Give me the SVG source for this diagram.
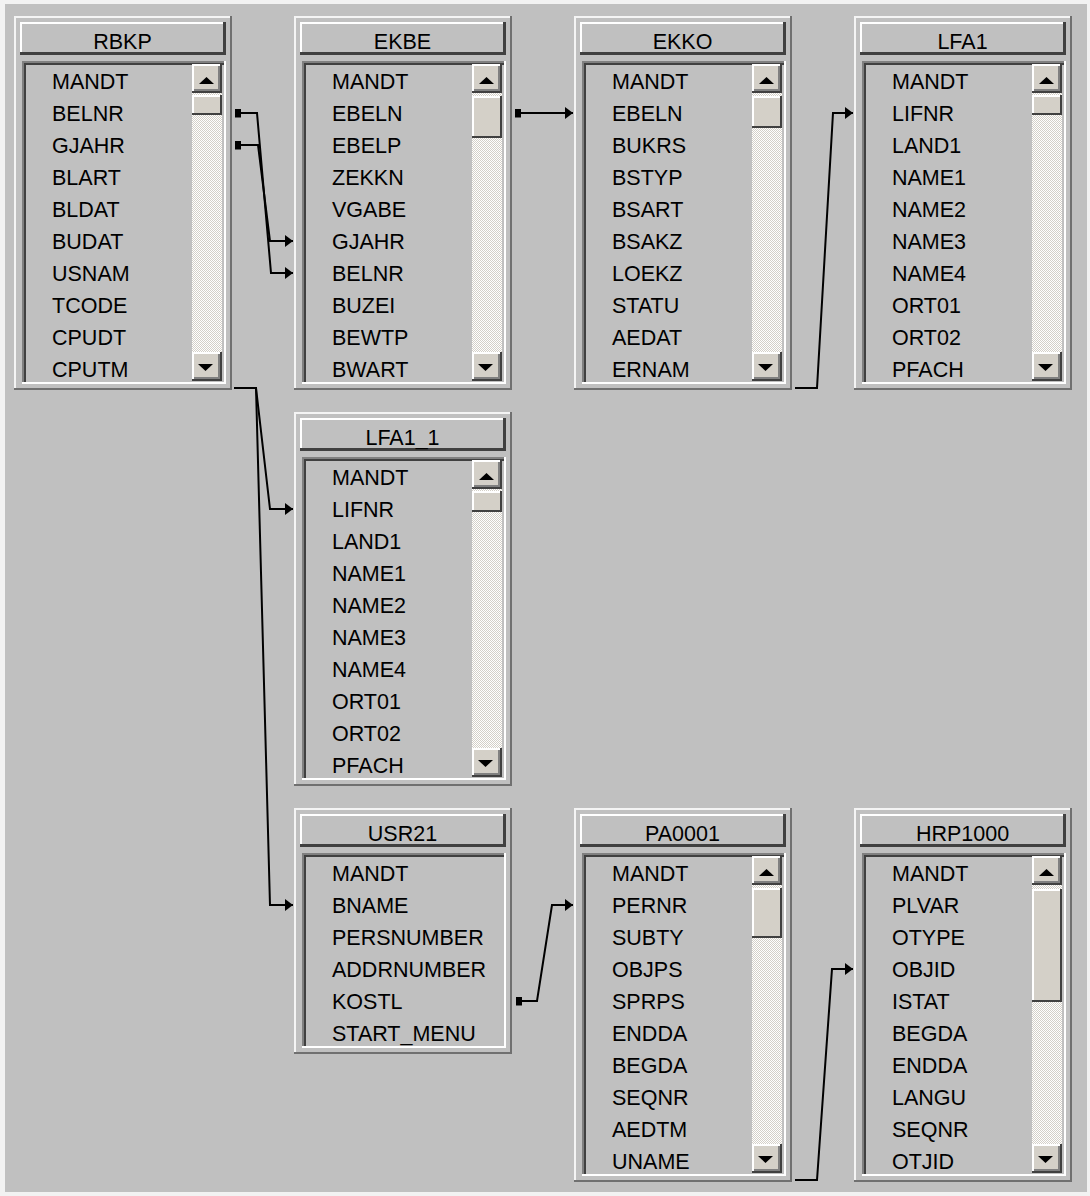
<svg xmlns="http://www.w3.org/2000/svg" xmlns:xlink="http://www.w3.org/1999/xlink" width="1090" height="1196" viewBox="0 0 1090 1196">
<style>
.f{font-family:"Liberation Sans",Arial,sans-serif;font-size:21.5px;fill:#000}
.t{text-anchor:middle}
.c{fill:none;stroke:#000;stroke-width:2;stroke-linejoin:miter}
.face{fill:#d4d0c8}
.hi{fill:#ffffff}
.sh{fill:#808080}
.dk{fill:#404040}
</style>
<defs>
<pattern id="dith" width="2" height="2" patternUnits="userSpaceOnUse">
<rect width="2" height="2" fill="#ffffff"/>
<rect width="1" height="1" fill="#d4d0c8"/>
<rect x="1" y="1" width="1" height="1" fill="#d4d0c8"/>
</pattern>
<marker id="arr" markerUnits="userSpaceOnUse" markerWidth="9" markerHeight="12" refX="8" refY="6" orient="auto">
<path d="M0,0 L8,6 L0,12 z" fill="#000"/>
</marker>
<marker id="sq" markerUnits="userSpaceOnUse" markerWidth="7" markerHeight="10" refX="0" refY="4.5">
<rect x="0" y="0" width="6" height="9" fill="#000"/>
</marker>
<g id="btn">
<rect width="30" height="29" class="face"/>
<rect width="28" height="2" class="hi"/>
<rect width="2" height="27" class="hi"/>
<rect y="27" width="30" height="2" class="dk"/>
<rect x="28" width="2" height="29" class="dk"/>
<rect x="2" y="25" width="26" height="2" class="sh"/>
<rect x="26" y="2" width="2" height="25" class="sh"/>
</g>
<g id="btnUp">
<use xlink:href="#btn"/>
<path d="M7,20 L14.5,13 L22,20 z" fill="#000"/>
</g>
<g id="btnDn">
<use xlink:href="#btn"/>
<path d="M6,12 L21,12 L13.5,19 z" fill="#000"/>
</g>
<g id="frameBase10">
<rect width="218" height="374" fill="#c0c0c0"/>
<rect width="218" height="2" fill="#f4f4f4"/>
<rect width="2" height="374" fill="#f4f4f4"/>
<rect y="372" width="218" height="2" fill="#707070"/>
<rect x="216" width="2" height="374" fill="#707070"/>
<rect x="6" y="6" width="206" height="33" fill="#c0c0c0"/>
<rect x="6" y="6" width="205" height="2" class="hi"/>
<rect x="6" y="6" width="2" height="32" class="hi"/>
<rect x="6" y="36" width="206" height="3" class="dk"/>
<rect x="209" y="6" width="3" height="33" class="dk"/>
<rect x="8" y="45" width="204" height="2" class="sh"/>
<rect x="8" y="45" width="2" height="323" class="sh"/>
<rect x="10" y="47" width="200" height="2" class="dk"/>
<rect x="10" y="47" width="2" height="319" class="dk"/>
<rect x="8" y="366" width="204" height="2" class="hi"/>
<rect x="210" y="45" width="2" height="323" class="hi"/>
<rect x="178" y="48" width="30" height="317" fill="url(#dith)"/>
<use xlink:href="#btnUp" x="178" y="48"/>
<use xlink:href="#btnDn" x="178" y="336"/>
</g>
<g id="frameBase6">
<rect width="218" height="246" fill="#c0c0c0"/>
<rect width="218" height="2" fill="#f4f4f4"/>
<rect width="2" height="246" fill="#f4f4f4"/>
<rect y="244" width="218" height="2" fill="#707070"/>
<rect x="216" width="2" height="246" fill="#707070"/>
<rect x="6" y="6" width="206" height="33" fill="#c0c0c0"/>
<rect x="6" y="6" width="205" height="2" class="hi"/>
<rect x="6" y="6" width="2" height="32" class="hi"/>
<rect x="6" y="36" width="206" height="3" class="dk"/>
<rect x="209" y="6" width="3" height="33" class="dk"/>
<rect x="8" y="45" width="204" height="2" class="sh"/>
<rect x="8" y="45" width="2" height="195" class="sh"/>
<rect x="10" y="47" width="200" height="2" class="dk"/>
<rect x="10" y="47" width="2" height="191" class="dk"/>
<rect x="8" y="238" width="204" height="2" class="hi"/>
<rect x="210" y="45" width="2" height="195" class="hi"/>
</g>
</defs>

<rect width="1090" height="1196" fill="#f2f2f2"/>
<rect x="5" y="4" width="1082" height="1188" fill="#c0c0c0"/>

<g id="RBKP" transform="translate(14,16)">
<use xlink:href="#frameBase10"/>
<g transform="translate(178,79)"><rect width="30" height="20" class="face"/><rect width="30" height="2" class="hi"/><rect width="2" height="20" class="hi"/><rect y="18" width="30" height="2" class="dk"/><rect x="28" width="2" height="20" class="dk"/></g>
<text class="f t" x="108.5" y="32.5">RBKP</text>
<text class="f" x="38" y="73">MANDT</text>
<text class="f" x="38" y="105">BELNR</text>
<text class="f" x="38" y="137">GJAHR</text>
<text class="f" x="38" y="169">BLART</text>
<text class="f" x="38" y="201">BLDAT</text>
<text class="f" x="38" y="233">BUDAT</text>
<text class="f" x="38" y="265">USNAM</text>
<text class="f" x="38" y="297">TCODE</text>
<text class="f" x="38" y="329">CPUDT</text>
<text class="f" x="38" y="361">CPUTM</text>
</g>

<g id="EKBE" transform="translate(294,16)">
<use xlink:href="#frameBase10"/>
<g transform="translate(178,80)"><rect width="30" height="42" class="face"/><rect width="30" height="2" class="hi"/><rect width="2" height="42" class="hi"/><rect y="40" width="30" height="2" class="dk"/><rect x="28" width="2" height="42" class="dk"/></g>
<text class="f t" x="108.5" y="32.5">EKBE</text>
<text class="f" x="38" y="73">MANDT</text>
<text class="f" x="38" y="105">EBELN</text>
<text class="f" x="38" y="137">EBELP</text>
<text class="f" x="38" y="169">ZEKKN</text>
<text class="f" x="38" y="201">VGABE</text>
<text class="f" x="38" y="233">GJAHR</text>
<text class="f" x="38" y="265">BELNR</text>
<text class="f" x="38" y="297">BUZEI</text>
<text class="f" x="38" y="329">BEWTP</text>
<text class="f" x="38" y="361">BWART</text>
</g>

<g id="EKKO" transform="translate(574,16)">
<use xlink:href="#frameBase10"/>
<g transform="translate(178,80)"><rect width="30" height="32" class="face"/><rect width="30" height="2" class="hi"/><rect width="2" height="32" class="hi"/><rect y="30" width="30" height="2" class="dk"/><rect x="28" width="2" height="32" class="dk"/></g>
<text class="f t" x="108.5" y="32.5">EKKO</text>
<text class="f" x="38" y="73">MANDT</text>
<text class="f" x="38" y="105">EBELN</text>
<text class="f" x="38" y="137">BUKRS</text>
<text class="f" x="38" y="169">BSTYP</text>
<text class="f" x="38" y="201">BSART</text>
<text class="f" x="38" y="233">BSAKZ</text>
<text class="f" x="38" y="265">LOEKZ</text>
<text class="f" x="38" y="297">STATU</text>
<text class="f" x="38" y="329">AEDAT</text>
<text class="f" x="38" y="361">ERNAM</text>
</g>

<g id="LFA1" transform="translate(854,16)">
<use xlink:href="#frameBase10"/>
<g transform="translate(178,79)"><rect width="30" height="20" class="face"/><rect width="30" height="2" class="hi"/><rect width="2" height="20" class="hi"/><rect y="18" width="30" height="2" class="dk"/><rect x="28" width="2" height="20" class="dk"/></g>
<text class="f t" x="108.5" y="32.5">LFA1</text>
<text class="f" x="38" y="73">MANDT</text>
<text class="f" x="38" y="105">LIFNR</text>
<text class="f" x="38" y="137">LAND1</text>
<text class="f" x="38" y="169">NAME1</text>
<text class="f" x="38" y="201">NAME2</text>
<text class="f" x="38" y="233">NAME3</text>
<text class="f" x="38" y="265">NAME4</text>
<text class="f" x="38" y="297">ORT01</text>
<text class="f" x="38" y="329">ORT02</text>
<text class="f" x="38" y="361">PFACH</text>
</g>

<g id="LFA1_1" transform="translate(294,412)">
<use xlink:href="#frameBase10"/>
<g transform="translate(178,79)"><rect width="30" height="21" class="face"/><rect width="30" height="2" class="hi"/><rect width="2" height="21" class="hi"/><rect y="19" width="30" height="2" class="dk"/><rect x="28" width="2" height="21" class="dk"/></g>
<text class="f t" x="108.5" y="32.5">LFA1_1</text>
<text class="f" x="38" y="73">MANDT</text>
<text class="f" x="38" y="105">LIFNR</text>
<text class="f" x="38" y="137">LAND1</text>
<text class="f" x="38" y="169">NAME1</text>
<text class="f" x="38" y="201">NAME2</text>
<text class="f" x="38" y="233">NAME3</text>
<text class="f" x="38" y="265">NAME4</text>
<text class="f" x="38" y="297">ORT01</text>
<text class="f" x="38" y="329">ORT02</text>
<text class="f" x="38" y="361">PFACH</text>
</g>

<g id="USR21" transform="translate(294,808)">
<use xlink:href="#frameBase6"/>
<text class="f t" x="108.5" y="32.5">USR21</text>
<text class="f" x="38" y="73">MANDT</text>
<text class="f" x="38" y="105">BNAME</text>
<text class="f" x="38" y="137">PERSNUMBER</text>
<text class="f" x="38" y="169">ADDRNUMBER</text>
<text class="f" x="38" y="201">KOSTL</text>
<text class="f" x="38" y="233">START_MENU</text>
</g>

<g id="PA0001" transform="translate(574,808)">
<use xlink:href="#frameBase10"/>
<g transform="translate(178,80)"><rect width="30" height="50" class="face"/><rect width="30" height="2" class="hi"/><rect width="2" height="50" class="hi"/><rect y="48" width="30" height="2" class="dk"/><rect x="28" width="2" height="50" class="dk"/></g>
<text class="f t" x="108.5" y="32.5">PA0001</text>
<text class="f" x="38" y="73">MANDT</text>
<text class="f" x="38" y="105">PERNR</text>
<text class="f" x="38" y="137">SUBTY</text>
<text class="f" x="38" y="169">OBJPS</text>
<text class="f" x="38" y="201">SPRPS</text>
<text class="f" x="38" y="233">ENDDA</text>
<text class="f" x="38" y="265">BEGDA</text>
<text class="f" x="38" y="297">SEQNR</text>
<text class="f" x="38" y="329">AEDTM</text>
<text class="f" x="38" y="361">UNAME</text>
</g>

<g id="HRP1000" transform="translate(854,808)">
<use xlink:href="#frameBase10"/>
<g transform="translate(178,81)"><rect width="30" height="113" class="face"/><rect width="30" height="2" class="hi"/><rect width="2" height="113" class="hi"/><rect y="111" width="30" height="2" class="dk"/><rect x="28" width="2" height="113" class="dk"/></g>
<text class="f t" x="108.5" y="32.5">HRP1000</text>
<text class="f" x="38" y="73">MANDT</text>
<text class="f" x="38" y="105">PLVAR</text>
<text class="f" x="38" y="137">OTYPE</text>
<text class="f" x="38" y="169">OBJID</text>
<text class="f" x="38" y="201">ISTAT</text>
<text class="f" x="38" y="233">BEGDA</text>
<text class="f" x="38" y="265">ENDDA</text>
<text class="f" x="38" y="297">LANGU</text>
<text class="f" x="38" y="329">SEQNR</text>
<text class="f" x="38" y="361">OTJID</text>
</g>

<g id="connectors">
<polyline class="c" points="235,113 257,113 271,273 293,273" marker-start="url(#sq)" marker-end="url(#arr)"/>
<polyline class="c" points="235,145 258,145 270,241 293,241" marker-start="url(#sq)" marker-end="url(#arr)"/>
<polyline class="c" points="515,113 573,113" marker-start="url(#sq)" marker-end="url(#arr)"/>
<polyline class="c" points="795,388 817,388 833,113 853,113" marker-end="url(#arr)"/>
<polyline class="c" points="234,388 256,388 270,509 293,509" marker-end="url(#arr)"/>
<polyline class="c" points="234,388 256,388 270,905 293,905" marker-end="url(#arr)"/>
<polyline class="c" points="516,1001 537,1001 552,905 573,905" marker-start="url(#sq)" marker-end="url(#arr)"/>
<polyline class="c" points="795,1180 817,1180 832,969 853,969" marker-end="url(#arr)"/>
</g>
</svg>
